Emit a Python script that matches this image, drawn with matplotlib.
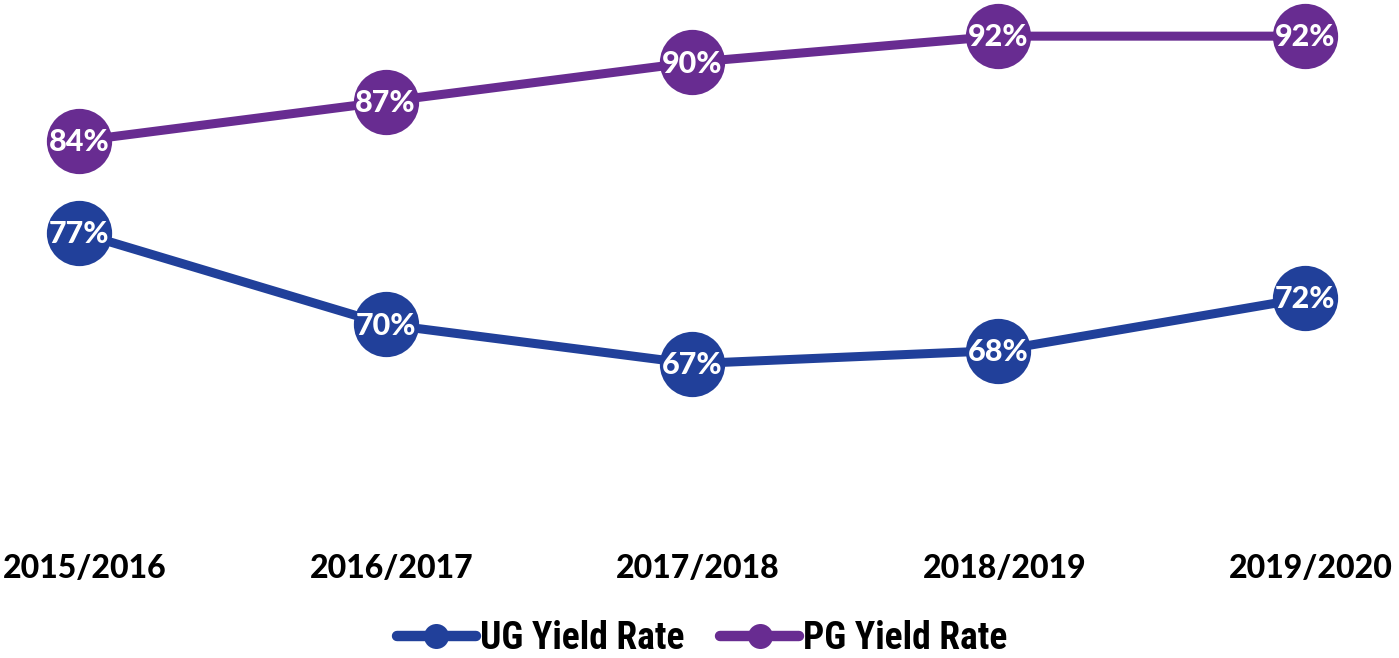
import matplotlib
matplotlib.use("Agg")
import matplotlib.pyplot as plt
from matplotlib.lines import Line2D
from matplotlib.transforms import ScaledTranslation

years = ["2015/2016", "2016/2017", "2017/2018", "2018/2019", "2019/2020"]
ug_yield = [77, 70, 67, 68, 72]
pg_yield = [84, 87, 90, 92, 92]
series_names = ["UG Yield Rate", "PG Yield Rate"]

UG_COLOR = "#21409a"
PG_COLOR = "#682c91"

fig = plt.figure(figsize=(13.99, 6.58), dpi=100)
ax = fig.add_axes([0, 0.2705, 1, 0.7295])

x = list(range(len(years)))
for vals, col in [(pg_yield, PG_COLOR), (ug_yield, UG_COLOR)]:
    ax.plot(x, vals, color=col, lw=6.5, marker="o", markersize=47,
            markeredgewidth=0, solid_capstyle="round", zorder=3)
    for xi, v in zip(x, vals):
        ax.text(xi, v - 0.1, f"{v}%", ha="center", va="center", color="white",
                fontsize=22, fontweight=900, family=["Lato", "DejaVu Sans"], zorder=4)

ax.set_xlim(-0.258, 4.307)
ax.set_ylim(58.12, 94.76)
ax.set_xticks(x)
ax.set_xticklabels(years, fontsize=23, fontweight=900, family=["Lato", "DejaVu Sans"])
ax.tick_params(axis="x", length=0, pad=53)
shift = ScaledTranslation(6 / 100, 0, fig.dpi_scale_trans)
for lab in ax.get_xticklabels():
    lab.set_transform(lab.get_transform() + shift)
ax.set_yticks([])
for s in ax.spines.values():
    s.set_visible(False)

handles = [
    Line2D([], [], color=UG_COLOR, lw=7.5, marker="o", markersize=18, markeredgewidth=0, solid_capstyle="round"),
    Line2D([], [], color=PG_COLOR, lw=7.5, marker="o", markersize=18, markeredgewidth=0, solid_capstyle="round"),
]
fig.legend(handles, series_names, loc="center", bbox_to_anchor=(0.502, 0.030),
           ncol=2, frameon=False, handlelength=2.1, handletextpad=0.12, columnspacing=0.95,
           borderpad=0, prop={"family": ["Roboto Condensed", "Roboto", "DejaVu Sans"], "weight": "bold", "size": 27})

fig.savefig("out.png", dpi=100)
